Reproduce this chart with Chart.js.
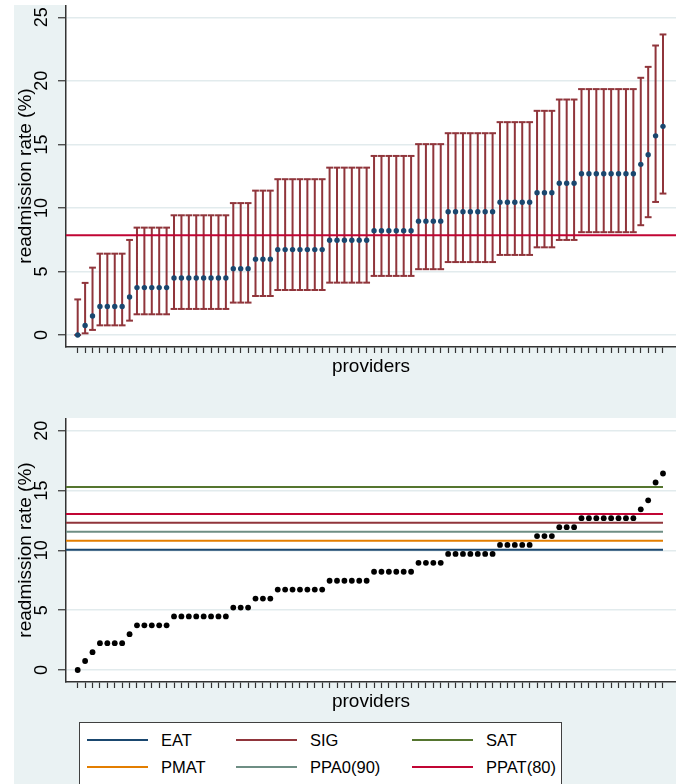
<!DOCTYPE html>
<html>
<head>
<meta charset="utf-8">
<script src="https://cdn.jsdelivr.net/npm/chart.js@4.4.1/dist/chart.umd.min.js"></script>
<style>
  html, body { margin: 0; padding: 0; background: #ffffff; }
  body { width: 682px; height: 784px; overflow: hidden; position: relative; font-family: "Liberation Sans", Arial, sans-serif; }
  #bg { position: absolute; left: 14px; top: 5px; width: 662px; height: 779px; background: #eaf2f3; }
  #top { position: absolute; left: 14px; top: 5px; }
  #bottom { position: absolute; left: 14px; top: 418px; }
  #legend { position: absolute; left: 79px; top: 722px; width: 483px; height: 70px; background: #fff; border: 1px solid #404040; box-sizing: border-box; }
  .lg-line { position: absolute; width: 61px; height: 2px; }
  .lg-text { position: absolute; font-size: 16.5px; line-height: 1; color: #000; transform: translateY(-50%); white-space: nowrap; }
</style>
</head>
<body>
<div id="bg"></div>
<canvas id="top" width="662" height="373"></canvas>
<canvas id="bottom" width="662" height="295"></canvas>
<div id="legend"></div>
<script>
// ---------------- data ----------------
const providers = Array.from({ length: 80 }, (_, i) => i + 1);

const rate = [
  0.00, 0.75, 1.49, 2.24, 2.24, 2.24, 2.24, 2.99, 3.73, 3.73, 3.73, 3.73, 3.73,
  4.48, 4.48, 4.48, 4.48, 4.48, 4.48, 4.48, 4.48,
  5.22, 5.22, 5.22, 5.97, 5.97, 5.97,
  6.72, 6.72, 6.72, 6.72, 6.72, 6.72, 6.72,
  7.46, 7.46, 7.46, 7.46, 7.46, 7.46,
  8.21, 8.21, 8.21, 8.21, 8.21, 8.21,
  8.96, 8.96, 8.96, 8.96,
  9.70, 9.70, 9.70, 9.70, 9.70, 9.70, 9.70,
  10.45, 10.45, 10.45, 10.45, 10.45,
  11.19, 11.19, 11.19, 11.94, 11.94, 11.94,
  12.69, 12.69, 12.69, 12.69, 12.69, 12.69, 12.69, 12.69,
  13.43, 14.18, 15.67, 16.42
];

const lower = [
  0.00, 0.13, 0.40, 0.76, 0.76, 0.76, 0.76, 1.13, 1.63, 1.63, 1.63, 1.63, 1.63,
  2.05, 2.05, 2.05, 2.05, 2.05, 2.05, 2.05, 2.05,
  2.55, 2.55, 2.55, 3.07, 3.07, 3.07,
  3.54, 3.54, 3.54, 3.54, 3.54, 3.54, 3.54,
  4.12, 4.12, 4.12, 4.12, 4.12, 4.12,
  4.65, 4.65, 4.65, 4.65, 4.65, 4.65,
  5.18, 5.18, 5.18, 5.18,
  5.74, 5.74, 5.74, 5.74, 5.74, 5.74, 5.74,
  6.30, 6.30, 6.30, 6.30, 6.30,
  6.90, 6.90, 6.90, 7.48, 7.48, 7.48,
  8.09, 8.09, 8.09, 8.09, 8.09, 8.09, 8.09, 8.09,
  8.64, 9.27, 10.47, 11.13
];

const upper = [
  2.80, 4.10, 5.30, 6.40, 6.40, 6.40, 6.40, 7.48, 8.45, 8.45, 8.45, 8.45, 8.45,
  9.42, 9.42, 9.42, 9.42, 9.42, 9.42, 9.42, 9.42,
  10.38, 10.38, 10.38, 11.36, 11.36, 11.36,
  12.26, 12.26, 12.26, 12.26, 12.26, 12.26, 12.26,
  13.17, 13.17, 13.17, 13.17, 13.17, 13.17,
  14.09, 14.09, 14.09, 14.09, 14.09, 14.09,
  15.02, 15.02, 15.02, 15.02,
  15.88, 15.88, 15.88, 15.88, 15.88, 15.88, 15.88,
  16.75, 16.75, 16.75, 16.75, 16.75,
  17.64, 17.64, 17.64, 18.53, 18.53, 18.53,
  19.35, 19.35, 19.35, 19.35, 19.35, 19.35, 19.35, 19.35,
  20.24, 21.10, 22.78, 23.65
];

const meanRate = 7.85;

const thresholdNames  = ['EAT', 'SIG', 'SAT', 'PMAT', 'PPA0(90)', 'PPAT(80)'];
const thresholdValues = [10.05, 12.31, 15.29, 10.80, 11.56, 13.03];

const yTicksTop    = [0, 5, 10, 15, 20, 25];
const yTicksBottom = [0, 5, 10, 15, 20];

// ---------------- style ----------------
const FONT = '"Liberation Sans", Arial, sans-serif';
const NAVY = '#1a476f', MAROON = '#90353b', CRANBERRY = '#c10534';
const thresholdColors = ['#1a476f', '#90353b', '#55752f', '#e37e00', '#6e8e84', '#c10534'];
const xMin = -0.579, xMax = 81.755;

const plotBg = {
  id: 'plotBg',
  beforeDraw(chart) {
    const { ctx, chartArea: a } = chart;
    ctx.save();
    ctx.fillStyle = '#ffffff';
    ctx.fillRect(a.left, a.top, a.right - a.left, a.bottom - a.top);
    ctx.restore();
  }
};

function noPad(s) {
  s.paddingTop = 0; s.paddingBottom = 0; s.paddingLeft = 0; s.paddingRight = 0;
}

function makeOptions(yMin, yMax, yTicks) {
  return {
    responsive: false,
    animation: false,
    devicePixelRatio: 1,
    events: [],
    layout: { padding: 0, autoPadding: false },
    plugins: { legend: { display: false }, tooltip: { enabled: false } },
    scales: {
      x: {
        type: 'linear', min: xMin, max: xMax,
        afterBuildTicks: s => { s.ticks = providers.map(v => ({ value: v })); },
        afterFit: s => { s.height = 31; noPad(s); },
        ticks: { display: false, autoSkip: false },
        grid: { drawOnChartArea: false, tickLength: 6, tickColor: '#333', tickWidth: 1.2 },
        border: { color: '#333', width: 1.5 },
        title: { display: true, text: 'providers', color: '#000', font: { family: FONT, size: 19 }, padding: 0 }
      },
      y: {
        min: yMin, max: yMax,
        afterBuildTicks: s => { s.ticks = yTicks.map(v => ({ value: v })); },
        afterFit: s => { s.width = 52; noPad(s); },
        ticks: { minRotation: 90, maxRotation: 90, crossAlign: 'center', padding: 5.5, color: '#000', font: { family: FONT, size: 18 } },
        grid: { color: '#e2ebed', lineWidth: 1.5, tickLength: 8, tickColor: '#333', tickWidth: 1.2 },
        border: { color: '#333', width: 1.5 },
        title: { display: true, text: 'readmission rate (%)', color: '#000', font: { family: FONT, size: 19 }, padding: 0 }
      }
    }
  };
}

// ---------------- top chart ----------------
const ciSegments = [];
providers.forEach((p, i) => {
  ciSegments.push({ x: p, y: lower[i] }, { x: p, y: upper[i] }, { x: p, y: null });
});

const topChart = new Chart(document.getElementById('top'), {
  type: 'line',
  data: {
    datasets: [
      { label: 'CI', data: ciSegments, borderColor: MAROON, borderWidth: 2, pointRadius: 0, spanGaps: false, order: 5 },
      { label: 'lower cap', data: providers.map((p, i) => ({ x: p, y: lower[i] })), showLine: false,
        pointStyle: 'line', pointRadius: 3.4, pointBorderWidth: 2, pointBorderColor: MAROON, borderColor: MAROON, order: 4 },
      { label: 'upper cap', data: providers.map((p, i) => ({ x: p, y: upper[i] })), showLine: false,
        pointStyle: 'line', pointRadius: 3.4, pointBorderWidth: 2, pointBorderColor: MAROON, borderColor: MAROON, order: 4 },
      { label: 'mean', data: [{ x: xMin, y: meanRate }, { x: xMax, y: meanRate }], borderColor: CRANBERRY, borderWidth: 2, pointRadius: 0, order: 2 },
      { label: 'rate', data: providers.map((p, i) => ({ x: p, y: rate[i] })), showLine: false,
        pointRadius: 2.7, pointBorderWidth: 0, pointBackgroundColor: NAVY, borderColor: NAVY, order: 1 }
    ]
  },
  options: makeOptions(-0.944, 25.968, yTicksTop),
  plugins: [plotBg]
});

// ---------------- bottom chart ----------------
const lastProvider = providers[providers.length - 1];
const thresholdSets = thresholdNames.map((name, k) => ({
  label: name,
  data: [{ x: xMin, y: thresholdValues[k] }, { x: lastProvider, y: thresholdValues[k] }],
  borderColor: thresholdColors[k], borderWidth: 2, pointRadius: 0, order: 3
}));

const bottomChart = new Chart(document.getElementById('bottom'), {
  type: 'line',
  data: {
    datasets: [
      ...thresholdSets,
      { label: 'rate', data: providers.map((p, i) => ({ x: p, y: rate[i] })), showLine: false,
        pointRadius: 2.9, pointBorderWidth: 0, pointBackgroundColor: '#000', borderColor: '#000', order: 1 }
    ]
  },
  options: makeOptions(-1.003, 21.06, yTicksBottom),
  plugins: [plotBg]
});

// ---------------- legend (built from the chart's datasets) ----------------
const legend = document.getElementById('legend');
const colX = [86, 235, 411];
const rowY = [740, 767];
bottomChart.data.datasets.slice(0, thresholdNames.length).forEach((ds, k) => {
  const c = k % 3, r = Math.floor(k / 3);
  const lx = colX[c] - 79, ly = rowY[r] - 722;
  const line = document.createElement('div');
  line.className = 'lg-line';
  line.style.left = lx + 'px';
  line.style.top = (ly - 2) + 'px';
  line.style.background = ds.borderColor;
  legend.appendChild(line);
  const txt = document.createElement('div');
  txt.className = 'lg-text';
  txt.style.left = (lx + 74) + 'px';
  txt.style.top = (ly - 1) + 'px';
  txt.textContent = ds.label;
  legend.appendChild(txt);
});
</script>
</body>
</html>
